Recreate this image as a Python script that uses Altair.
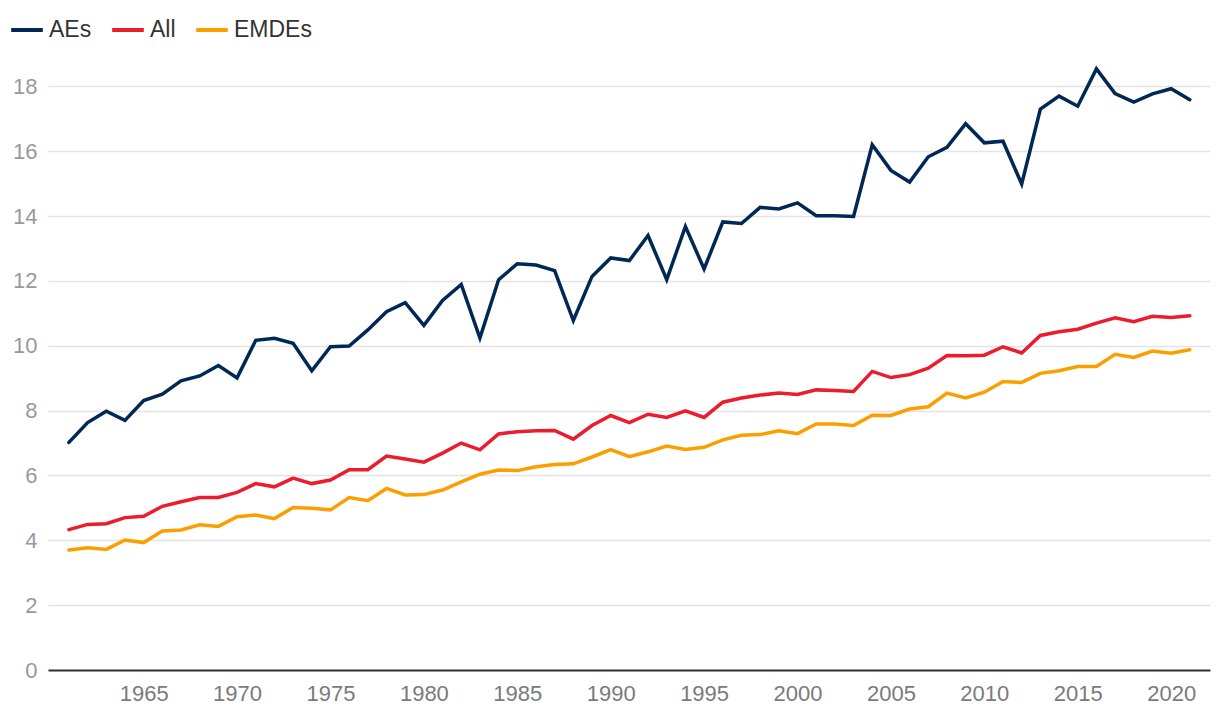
import altair as alt
import pandas as pd

years = list(range(1961, 2022))
series_names = ["AEs", "All", "EMDEs"]
colors = ["#002855", "#EB1C2D", "#FD9E00"]

aes = [7.02, 7.63, 7.98, 7.70, 8.31, 8.51, 8.92, 9.07, 9.39, 9.01,
       10.17, 10.23, 10.08, 9.23, 9.97, 9.99, 10.49, 11.05, 11.33, 10.63,
       11.40, 11.89, 10.24, 12.04, 12.53, 12.49, 12.32, 10.78, 12.14, 12.71,
       12.63, 13.40, 12.04, 13.68, 12.37, 13.82, 13.77, 14.27, 14.22, 14.41,
       14.01, 14.01, 13.99, 16.20, 15.41, 15.05, 15.83, 16.12, 16.85, 16.26,
       16.31, 14.99, 17.30, 17.70, 17.39, 18.54, 17.78, 17.52, 17.77, 17.93, 17.59]
all_ = [4.33, 4.49, 4.51, 4.70, 4.74, 5.05, 5.19, 5.32, 5.32, 5.48,
        5.75, 5.65, 5.92, 5.75, 5.86, 6.18, 6.18, 6.60, 6.51, 6.41,
        6.69, 7.00, 6.79, 7.28, 7.35, 7.38, 7.39, 7.12, 7.54, 7.85,
        7.63, 7.89, 7.79, 7.99, 7.79, 8.26, 8.39, 8.48, 8.54, 8.50,
        8.64, 8.62, 8.59, 9.21, 9.02, 9.11, 9.31, 9.70, 9.69, 9.71,
        9.97, 9.78, 10.32, 10.43, 10.51, 10.70, 10.86, 10.74, 10.91, 10.87, 10.93]
emdes = [3.70, 3.77, 3.72, 4.01, 3.93, 4.29, 4.32, 4.48, 4.43, 4.73,
         4.78, 4.67, 5.01, 4.99, 4.94, 5.32, 5.22, 5.60, 5.40, 5.41,
         5.55, 5.80, 6.04, 6.17, 6.15, 6.27, 6.34, 6.36, 6.57, 6.80,
         6.58, 6.73, 6.91, 6.80, 6.87, 7.10, 7.24, 7.26, 7.38, 7.29,
         7.59, 7.59, 7.54, 7.86, 7.85, 8.05, 8.12, 8.54, 8.39, 8.57,
         8.90, 8.87, 9.15, 9.23, 9.36, 9.36, 9.74, 9.64, 9.84, 9.77, 9.88]

y_ticks = [0, 2, 4, 6, 8, 10, 12, 14, 16, 18]
x_ticks = [1965, 1970, 1975, 1980, 1985, 1990, 1995, 2000, 2005, 2010, 2015, 2020]

rows = []
for name, vals in zip(series_names, [aes, all_, emdes]):
    for yr, v in zip(years, vals):
        rows.append({"year": yr, "value": v, "series": name})
df = pd.DataFrame(rows)

FONT = "Liberation Sans"

chart = alt.Chart(df).mark_line(strokeWidth=3.5, strokeCap="round").encode(
    x=alt.X("year:Q",
            scale=alt.Scale(domain=[1959.88, 2022.08], nice=False, zero=False),
            axis=alt.Axis(values=x_ticks, format="d", title=None, grid=False,
                          ticks=False, domain=True, domainColor="#333333",
                          domainWidth=2, labelColor="#7a7a7a", labelFontSize=22,
                          labelFont=FONT, labelPadding=13)),
    y=alt.Y("value:Q",
            scale=alt.Scale(domain=[0, 19], nice=False),
            axis=alt.Axis(values=y_ticks, title=None, grid=True, gridColor="#e3e3e3",
                          gridWidth=1.5, ticks=False, domain=False,
                          labelColor="#999999", labelFontSize=22, labelFont=FONT,
                          labelPadding=11)),
    color=alt.Color("series:N",
                    scale=alt.Scale(domain=series_names, range=colors),
                    legend=alt.Legend(title=None, orient="none", direction="horizontal",
                                      legendX=-39, legendY=-42, padding=0,
                                      symbolType="stroke", symbolSize=1000,
                                      symbolStrokeWidth=4, labelFontSize=23,
                                      labelFont=FONT, labelColor="#333333",
                                      labelOffset=4, columnPadding=12)),
    detail="series:N",
).properties(
    width=1162,
    height=616,
    padding={"left": 40, "top": 46, "right": 2, "bottom": 40},
    autosize=alt.AutoSizeParams(type="none"),
).configure_view(stroke=None)

chart.save("out.html", embed_options={"renderer": "svg", "actions": False})
